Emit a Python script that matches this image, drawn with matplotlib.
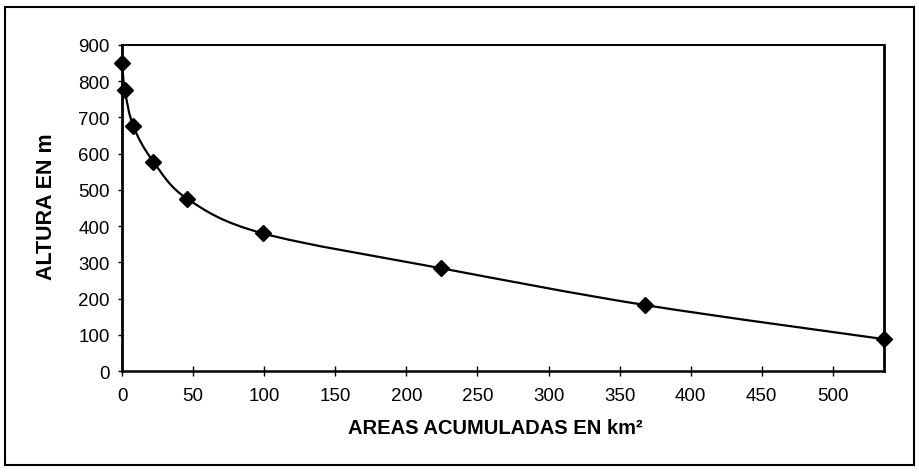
import matplotlib
matplotlib.use("Agg")
import matplotlib.pyplot as plt
from matplotlib.path import Path
from matplotlib.patches import PathPatch, Rectangle

# Hypsometric curve: cumulative area (km²) vs. elevation (m)
areas = [0, 2, 8, 22, 46, 99, 224, 368, 536]
alturas = [850, 775, 675, 578, 475, 380, 284, 182, 88]
x_ticks = [0, 50, 100, 150, 200, 250, 300, 350, 400, 450, 500]
y_ticks = [0, 100, 200, 300, 400, 500, 600, 700, 800, 900]

plt.rcParams['font.family'] = ['Liberation Sans', 'DejaVu Sans']

fig = plt.figure(figsize=(9.19, 4.77), dpi=100)
ax = fig.add_axes([0.1328, 0.2201, 0.8292, 0.6835])

# Smoothed line through the points (cardinal Bézier segments)
n = len(areas)
pts = list(zip(areas, alturas))
verts = [pts[0]]
codes = [Path.MOVETO]
for i in range(n - 1):
    p0 = pts[i - 1] if i > 0 else pts[i]
    p1 = pts[i]
    p2 = pts[i + 1]
    p3 = pts[i + 2] if i + 2 < n else pts[i + 1]
    c1 = (p1[0] + (p2[0] - p0[0]) / 6, p1[1] + (p2[1] - p0[1]) / 6)
    c2 = (p2[0] - (p3[0] - p1[0]) / 6, p2[1] - (p3[1] - p1[1]) / 6)
    verts += [c1, c2, p2]
    codes += [Path.CURVE4] * 3
ax.add_patch(PathPatch(Path(verts, codes), facecolor='none',
                       edgecolor='black', lw=1.6, zorder=2))
ax.plot(areas, alturas, linestyle='none', marker='D', markersize=8.5,
        color='black', zorder=3, clip_on=False)

ax.set_xlim(0, 536)
ax.set_ylim(0, 900)
ax.set_xticks(x_ticks)
ax.set_yticks(y_ticks)
ax.tick_params(axis='x', direction='inout', length=7, width=1,
               labelsize=13.5, pad=8)
ax.tick_params(axis='y', direction='out', length=3, width=1,
               labelsize=13.5, pad=6)
for s in ['left', 'right']:
    ax.spines[s].set_linewidth(2.0)
ax.spines['bottom'].set_linewidth(1.8)
ax.spines['top'].set_linewidth(1.4)

ax.set_xlabel('AREAS ACUMULADAS EN km²', fontsize=14.5, fontweight='bold')
ax.xaxis.set_label_coords(0.49, -0.145)
ax.set_ylabel('ALTURA EN m', fontsize=15.5, fontweight='bold')
ax.yaxis.set_label_coords(-0.086, 0.506)

# Outer frame around the whole chart
fig.add_artist(Rectangle((5 / 919, 1 - 466 / 477), 909 / 919, 458 / 477,
                         transform=fig.transFigure, fill=False,
                         edgecolor='black', lw=1.5))

fig.savefig('out.png', dpi=100)
